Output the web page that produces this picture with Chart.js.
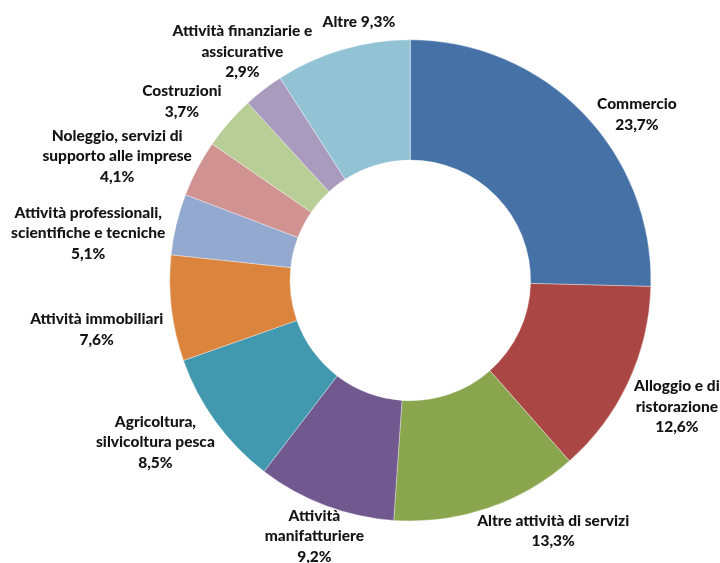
<!DOCTYPE html>
<html>
<head>
<meta charset="utf-8">
<script src="https://cdn.jsdelivr.net/npm/chart.js@4/dist/chart.umd.min.js"></script>
<style>
  html, body { margin: 0; padding: 0; background: #ffffff; }
  #wrap { width: 720px; height: 563px; position: relative; }
</style>
</head>
<body>
<div id="wrap"><canvas id="c" width="720" height="563"></canvas></div>
<script>
// Categories (label lines as printed)
const categories = [
  ["Commercio"],
  ["Alloggio e di", "ristorazione"],
  ["Altre attività di servizi"],
  ["Attività", "manifatturiere"],
  ["Agricoltura,", "silvicoltura pesca"],
  ["Attività immobiliari"],
  ["Attività professionali,", "scientifiche e tecniche"],
  ["Noleggio, servizi di", "supporto alle imprese"],
  ["Costruzioni"],
  ["Attività finanziarie e", "assicurative"],
  ["Altre"]
];
// Printed percentage labels
const percentLabels = ["23,7%", "12,6%", "13,3%", "9,2%", "8,5%", "7,6%", "5,1%", "4,1%", "3,7%", "2,9%", "9,3%"];
// Slice shares as drawn in the picture (%)
const sliceShares = [25.4, 13.1, 12.6, 9.3, 9.2, 7.1, 4.1, 3.8, 3.6, 2.7, 9.1];

const sliceColors = ["#4571A7", "#AA4643", "#89A54E", "#71588F", "#4198AF", "#DB843D",
                     "#93A9CF", "#D19392", "#B9CD96", "#A99BBD", "#92C3D5"];

// Label block centres relative to the doughnut centre (px)
const labelOffsets = [
  [226.6, -166.1], [266.6, 126.1], [142.9, 250.8], [-95.9, 255.8], [-254.9, 161.9],
  [-313.6, 49.1], [-322.1, -47.4], [-293.1, -124.4], [-228.4, -179.1], [-167.9, -228.5],
  [-51.4, -258.7]
];

const labelPlugin = {
  id: 'outerLabels',
  afterDatasetsDraw(chart) {
    const ctx = chart.ctx;
    const meta = chart.getDatasetMeta(0);
    const arc0 = meta.data[0];
    const cx = arc0.x, cy = arc0.y;
    const lh = 20.5;
    ctx.save();
    ctx.font = "900 15.5px Lato, 'Liberation Sans', sans-serif";
    ctx.fillStyle = "#141414";
    ctx.textAlign = "center";
    ctx.textBaseline = "middle";
    categories.forEach((lines, i) => {
      let all;
      if (i === categories.length - 1) {
        all = [lines[0] + " " + percentLabels[i]];
      } else {
        all = lines.concat([percentLabels[i]]);
      }
      const x = cx + labelOffsets[i][0];
      const yMid = cy + labelOffsets[i][1];
      const y0 = yMid - (all.length - 1) * lh / 2;
      all.forEach((t, k) => ctx.fillText(t, x, y0 + k * lh));
    });
    ctx.restore();
  }
};

new Chart(document.getElementById('c'), {
  type: 'doughnut',
  data: {
    labels: categories.map(l => l.join(' ')),
    datasets: [{
      data: sliceShares,
      backgroundColor: sliceColors,
      borderColor: 'rgba(255,255,255,0.35)',
      borderWidth: 1
    }]
  },
  options: {
    responsive: false,
    animation: false,
    cutout: '50%',
    rotation: 0,
    layout: { padding: { left: 169, right: 68.4, top: 39.3, bottom: 41.5 } },
    plugins: {
      legend: { display: false },
      tooltip: { enabled: false }
    }
  },
  plugins: [labelPlugin]
});
</script>
</body>
</html>
